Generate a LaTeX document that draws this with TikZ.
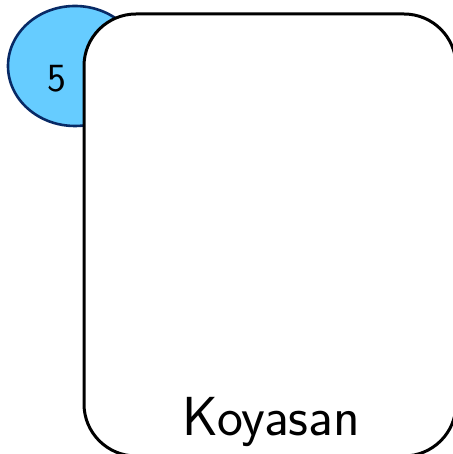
\documentclass[tikz,border=0pt]{standalone}
\usepackage{tikz}
\usetikzlibrary{positioning,shapes.geometric}
\definecolor{ink}  {HTML}{000000}
\definecolor{navy} {HTML}{082A66}
\definecolor{sky}  {HTML}{66CCFF}
\tikzset{
  % --- nodes
  badge/.style  = {ellipse, draw=navy, fill=sky, line width=2.6pt, inner sep=0pt,
                   minimum width=134pt, minimum height=120pt},
  card/.style   = {rectangle, rounded corners=52pt, draw=ink, fill=white, line width=3pt,
                   inner sep=0pt, minimum width=372pt, minimum height=442pt},
  numtxt/.style = {font=\sffamily\fontsize{40}{40}\selectfont, text=ink, inner sep=0pt},
  lbl/.style    = {font=\sffamily\fontsize{55}{55}\selectfont, text=ink, inner sep=0pt},
}
\begin{document}
\begin{tikzpicture}[x=1pt,y=1pt]
  \useasboundingbox (0,0) rectangle (452,454);
  % badge sits behind the card
  \node[badge] (badge) at (75,388) {};
  \node[card] (koyasan) at (270,219) {};
  \node[numtxt] (num5) at (57,375) {5};
  % card title
  \node[lbl, anchor=base] (title) at (271.5,18) {Koyasan};
\end{tikzpicture}
\end{document}
